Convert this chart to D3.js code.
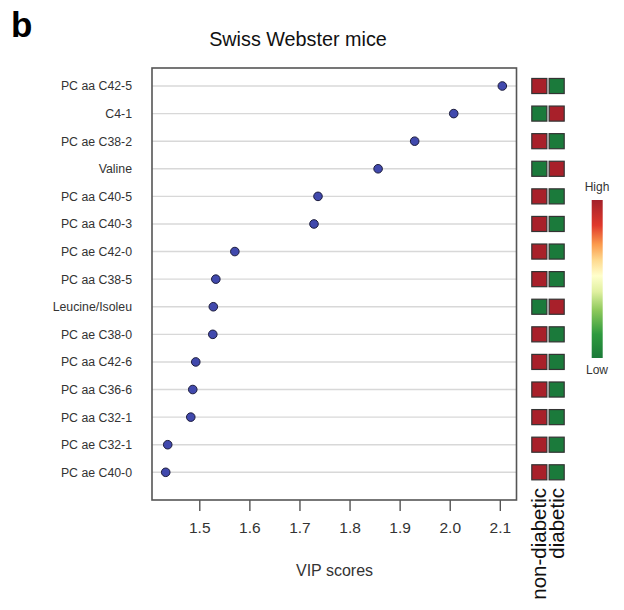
<!DOCTYPE html>
<html lang="en">
<head>
	<meta charset="utf-8">
	<script type="text/javascript" src="https://d3js.org/d3.v7.min.js"></script>
	<style type="text/css">
		body { margin: 0; background: #fff; }
		text { font-family: "Liberation Sans", Arial, sans-serif; fill: #222; }
	</style>
</head>
<body>
<script type="text/javascript">
var metabolites = ["PC aa C42-5", "C4-1", "PC ae C38-2", "Valine", "PC aa C40-5",
    "PC aa C40-3", "PC ae C42-0", "PC aa C38-5", "Leucine/Isoleu", "PC ae C38-0",
    "PC aa C42-6", "PC aa C36-6", "PC aa C32-1", "PC ae C32-1", "PC ae C40-0"];
var vipScores = [2.105, 2.008, 1.930, 1.857, 1.737, 1.729, 1.571, 1.533,
    1.528, 1.527, 1.493, 1.487, 1.483, 1.437, 1.433];
var groups = ["non-diabetic", "diabetic"];
// relative level per group: 1 = high, 0 = low
var nonDiabeticLevel = [1, 0, 1, 0, 1, 1, 1, 1, 0, 1, 1, 1, 1, 1, 1];
var diabeticLevel    = [0, 1, 0, 1, 0, 0, 0, 0, 1, 0, 0, 0, 0, 0, 0];
var xTicks = [1.5, 1.6, 1.7, 1.8, 1.9, 2.0, 2.1];

var width = 624, height = 610;
var box = {left: 152, right: 516.5, top: 68, bottom: 500};

var svg = d3.select("body")
    .append("svg")
    .attr("width", width)
    .attr("height", height);

var x = d3.scaleLinear()
    .domain([1.4056, 2.1333])
    .range([box.left, box.right]);

var y = d3.scalePoint()
    .domain(metabolites)
    .range([86, 472.3]);

var col = d3.scaleBand()
    .domain(groups)
    .range([531.8, 564.2])
    .paddingInner(0.13);

var heat = d3.scaleOrdinal()
    .domain([0, 1])
    .range(["#1b7a3b", "#a8202a"]);

// panel letter and title
svg.append("text")
    .attr("x", 11)
    .attr("y", 37)
    .attr("font-size", 35)
    .attr("font-weight", "bold")
    .style("fill", "#000")
    .text("b");

svg.append("text")
    .attr("x", 298)
    .attr("y", 46)
    .attr("text-anchor", "middle")
    .attr("font-size", 19.8)
    .style("fill", "#111")
    .text("Swiss Webster mice");

// grid lines
svg.selectAll(".grid")
    .data(metabolites)
    .enter()
    .append("line")
    .attr("class", "grid")
    .attr("x1", box.left)
    .attr("x2", box.right)
    .attr("y1", function(d) { return y(d); })
    .attr("y2", function(d) { return y(d); })
    .attr("stroke", "#d8d8d8")
    .attr("stroke-width", 1.4);

// frame
svg.append("rect")
    .attr("x", box.left)
    .attr("y", box.top)
    .attr("width", box.right - box.left)
    .attr("height", box.bottom - box.top)
    .attr("fill", "none")
    .attr("stroke", "#555")
    .attr("stroke-width", 1.6);

// x axis ticks below the frame
var xAxis = d3.axisBottom(x)
    .tickValues(xTicks)
    .tickFormat(d3.format(".1f"))
    .tickSize(11)
    .tickPadding(11);

var gx = svg.append("g")
    .attr("transform", "translate(0," + box.bottom + ")")
    .call(xAxis);
gx.select(".domain").remove();
gx.selectAll(".tick line")
    .attr("stroke", "#555")
    .attr("stroke-width", 1.4);
gx.selectAll(".tick text")
    .attr("font-size", 15.5)
    .attr("font-family", null)
    .style("fill", "#333");

svg.append("text")
    .attr("x", 334.5)
    .attr("y", 576)
    .attr("text-anchor", "middle")
    .attr("font-size", 16)
    .style("fill", "#333")
    .text("VIP scores");

// metabolite labels
svg.selectAll(".label")
    .data(metabolites)
    .enter()
    .append("text")
    .attr("class", "label")
    .attr("x", 132)
    .attr("y", function(d) { return y(d); })
    .attr("dy", "0.36em")
    .attr("text-anchor", "end")
    .attr("font-size", 12.3)
    .style("fill", "#333")
    .text(function(d) { return d; });

// dots
svg.selectAll(".dot")
    .data(metabolites)
    .enter()
    .append("circle")
    .attr("class", "dot")
    .attr("cx", function(d, i) { return x(vipScores[i]); })
    .attr("cy", function(d) { return y(d); })
    .attr("r", 4.3)
    .attr("fill", "#4149ad")
    .attr("stroke", "#1c1c3c")
    .attr("stroke-width", 1);

// heatmap cells
var cells = [];
metabolites.forEach(function(m, i) {
    cells.push({name: m, group: groups[0], level: nonDiabeticLevel[i]});
    cells.push({name: m, group: groups[1], level: diabeticLevel[i]});
});

svg.selectAll(".cell")
    .data(cells)
    .enter()
    .append("rect")
    .attr("class", "cell")
    .attr("x", function(d) { return col(d.group); })
    .attr("y", function(d) { return y(d.name) - col.bandwidth() / 2; })
    .attr("width", col.bandwidth())
    .attr("height", col.bandwidth())
    .attr("fill", function(d) { return heat(d.level); })
    .attr("stroke", "#333")
    .attr("stroke-width", 1.2);

// group labels, rotated
svg.selectAll(".group")
    .data(groups)
    .enter()
    .append("text")
    .attr("class", "group")
    .attr("transform", function(d) {
        return "translate(" + (col(d) + col.bandwidth() / 2 + 7) + ",488) rotate(-90)";
    })
    .attr("text-anchor", "end")
    .attr("font-size", 20.5)
    .style("fill", "#111")
    .text(function(d) { return d; });

// colour key
var defs = svg.append("defs");
var grad = defs.append("linearGradient")
    .attr("id", "key")
    .attr("x1", 0).attr("y1", 1)
    .attr("x2", 0).attr("y2", 0);
var keyStops = [
    [0, "#1a7a38"], [0.15, "#2e9a3e"], [0.3, "#8cc85a"], [0.42, "#e0f0a0"],
    [0.52, "#ffffcc"], [0.62, "#fed98e"], [0.72, "#fb9a4c"], [0.84, "#e0382b"],
    [1, "#a3202a"]
];
grad.selectAll("stop")
    .data(keyStops)
    .enter()
    .append("stop")
    .attr("offset", function(d) { return d[0]; })
    .attr("stop-color", function(d) { return d[1]; });

svg.append("rect")
    .attr("x", 591.7)
    .attr("y", 200)
    .attr("width", 11)
    .attr("height", 158)
    .attr("fill", "url(#key)");

svg.append("text")
    .attr("x", 597)
    .attr("y", 191)
    .attr("text-anchor", "middle")
    .attr("font-size", 12)
    .style("fill", "#333")
    .text("High");

svg.append("text")
    .attr("x", 597)
    .attr("y", 374)
    .attr("text-anchor", "middle")
    .attr("font-size", 12)
    .style("fill", "#333")
    .text("Low");
</script>
</body>
</html>
